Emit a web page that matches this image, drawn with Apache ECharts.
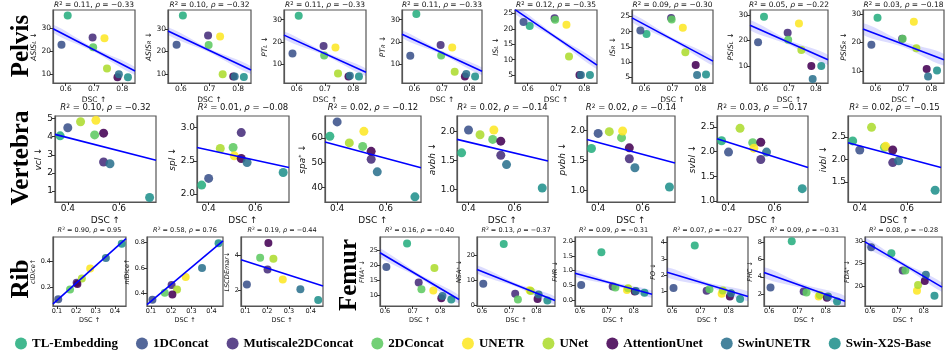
<!DOCTYPE html>
<html lang="en">
<head>
<meta charset="UTF-8" />
<title>DSC vs clinical metrics</title>
<script src="https://cdn.jsdelivr.net/npm/echarts@6.0.0/dist/echarts.min.js"></script>
<style>
  body { margin: 0; background: #fff; }
</style>
</head>
<body>
<div id="main" style="width: 951px; height: 350px"></div>
<script type="text/javascript">
// methods and their colours (viridis)
const methods = ["TL-Embedding", "1DConcat", "Mutiscale2DConcat", "2DConcat", "UNETR", "UNet", "AttentionUnet", "SwinUNETR", "Swin-X2S-Base"];
const palette = ["#28ae80", "#3b528b", "#472d7b", "#5ec962", "#fde725", "#addc30", "#440154", "#2c728e", "#21918c"];

// ---- Pelvis (x = DSC) ----
const pelvisDSC = [0.607, 0.585, 0.695, 0.697, 0.737, 0.746, 0.783, 0.788, 0.820];
const asisL = [35.3, 22.7, 25.8, 21.6, 25.5, 12.5, 8.7, 10.0, 8.7];
const asisR = [35.9, 23.0, 27.1, 22.9, 26.6, 10.0, 9.0, 9.0, 8.7];
const ptL = [31.8, 14.7, 18.1, 13.8, 17.4, 5.6, 4.3, 4.6, 4.3];
const ptR = [32.6, 13.7, 18.5, 13.8, 17.4, 6.4, 4.3, 5.4, 4.3];
const isL = [20.9, 22.2, 23.4, 22.9, 21.3, 11.0, 5.0, 5.0, 5.0];
const isR = [19.2, 20.4, 24.5, 24.0, 21.3, 13.2, 9.0, 5.7, 5.9];
const psisL = [29.3, 19.3, 23.1, 20.3, 26.7, 16.3, 10.0, 4.9, 10.0];
const psisR = [28.7, 19.2, 21.3, 21.3, 27.3, 17.9, 10.6, 8.0, 10.1];
// fitted line at left / right edge, band half-width at left / middle / right
const asisLFit = [29.6, 11.4], asisLBand = [1.7, 0.8, 1.7];
const asisRFit = [29.0, 11.8], asisRBand = [1.7, 0.8, 1.7];
const ptLFit = [23.0, 6.2], ptLBand = [1.7, 0.8, 1.7];
const ptRFit = [23.4, 6.6], ptRBand = [1.7, 0.8, 1.7];
const isLFit = [26.2, 8.2], isLBand = [1.3, 0.6, 1.3];
const isRFit = [24.5, 10.3], isRBand = [1.4, 0.6, 1.4];
const psisLFit = [26.0, 12.4], psisLBand = [2.0, 0.9, 2.0];
const psisRFit = [24.7, 13.9], psisRBand = [2.0, 0.9, 2.0];

// ---- Vertebra ----
const vertebraDSC = [0.370, 0.400, 0.540, 0.505, 0.510, 0.450, 0.540, 0.565, 0.720];
const vcl = [4.05, 4.5, 2.6, 4.1, 4.91, 4.83, 4.2, 2.5, 0.63];
const spl = [2.135, 2.235, 2.925, 2.7, 2.575, 2.685, 2.535, 2.475, 2.325];
const spa = [60.7, 66.5, 51.4, 56.6, 62.7, 58.0, 54.6, 46.3, 36.2];
const avbh = [1.63, 2.02, 1.59, 1.86, 2.02, 1.94, 1.83, 1.43, 1.03];
const pvbh = [1.7, 1.95, 1.53, 1.88, 1.99, 1.98, 1.71, 1.38, 1.06];
const svbl = [2.22, 1.99, 1.84, 2.18, 2.07, 2.47, 2.19, 1.99, 1.25];
const ivbl = [2.41, 2.21, 1.93, 2.27, 2.29, 2.71, 2.21, 1.97, 1.32];
const vclFit = [4.13, 2.7], splFit = [2.7, 2.4], spaFit = [58.4, 48.0];
const avbhFit = [1.86, 1.49], pvbhFit = [1.85, 1.46], svblFit = [2.26, 1.68], ivblFit = [2.37, 1.82];

// ---- Rib (no TL-Embedding point) ----
const ribDSC = [null, 0.107, 0.202, 0.168, 0.272, 0.229, 0.206, 0.353, 0.435];
const clDice = [null, 0.11, 0.235, 0.185, 0.3425, 0.2675, 0.225, 0.4225, 0.53];
const nlDice = [null, 0.35, 0.465, 0.405, 0.53, 0.43, 0.39, 0.6, 0.795];
const lscde = [null, 2.31, 3.18, 3.86, 2.6, 3.81, 4.72, 2.04, 1.42];
const clDiceFit = [0.076, 0.5675], nlDiceFit = [0.31, 0.815], lscdeFit = [3.75, 2.23];

// ---- Femur ----
const femurDSC = [0.680, 0.605, 0.722, 0.732, 0.775, 0.779, 0.804, 0.808, 0.840];
const fna = [27.3, 19.4, 14.2, 11.9, 11.5, 19.1, 8.9, 9.7, 8.5];
const nsa = [24.6, 8.7, 4.7, 2.4, 6.1, 5.8, 2.6, 4.4, 2.0];
const fhr = [1.62, 0.51, 0.46, 0.43, 0.34, 0.4, 0.29, 0.31, 0.25];
const fo = [3.83, 1.21, 1.04, 1.14, 0.86, 1.07, 0.7, 0.9, 0.54];
const fhc = [8.1, 2.77, 2.31, 2.2, 1.73, 1.9, 1.6, 1.73, 1.15];
const fda = [27.3, 28.6, 23.4, 23.4, 18.9, 20.2, 21.1, 22.5, 17.8];
const fnaFit = [24.2, 8.5], fnaBand = [1.4, 0.6, 1.4];
const nsaFit = [14.4, 2.0], nsaBand = [1.6, 0.7, 1.6];
const fhrFit = [0.91, 0.2], fhrBand = [0.12, 0.05, 0.12];
const foFit = [2.18, 0.7], foBand = [0.3, 0.12, 0.3];
const fhcFit = [4.5, 1.2], fhcBand = [0.6, 0.25, 0.6];
const fdaFit = [29.8, 19.7], fdaBand = [1.0, 0.45, 1.0];

// row styles
const rows = [
  { top: 10, height: 73, tick: 7.5, title: 7.5, sym: 8, xGap: 9, titleY: 5 },
  { top: 116, height: 86, tick: 9, title: 8.5, sym: 9, xGap: 10, titleY: 108 },
  { top: 237, height: 69, tick: 6.5, title: 6.5, sym: 8, xGap: 8, titleY: 230 }
];

const PX = [0.555, 0.845], PT = [0.6, 0.7, 0.8];
const VX = [0.35, 0.745], VT = [0.4, 0.6];
const RX = [0.08, 0.457], RT = [0.1, 0.2, 0.3, 0.4];
const FX = [0.582, 0.868], FT = [0.6, 0.7, 0.8];

const plots = [
  { row: 0, box: [53, 82], dsc: pelvisDSC, x: PX, xt: PT, y: [6.2, 37.7], yt: [10, 20, 30], yd: 0, vals: asisL, fit: asisLFit, band: asisLBand, stat: ["0.11", "\u22120.33"], name: "{i|ASIS}{b|L}{n| \u2193}" },
  { row: 0, box: [168, 83], dsc: pelvisDSC, x: PX, xt: PT, y: [6.1, 38.3], yt: [10, 20, 30], yd: 0, vals: asisR, fit: asisRFit, band: asisRBand, stat: ["0.10", "\u22120.32"], name: "{i|ASIS}{b|R}{n| \u2193}" },
  { row: 0, box: [284, 82], dsc: pelvisDSC, x: PX, xt: PT, y: [1.3, 34.4], yt: [10, 20, 30], yd: 0, vals: ptL, fit: ptLFit, band: ptLBand, stat: ["0.11", "\u22120.33"], name: "{i|PT}{b|L}{n| \u2193}" },
  { row: 0, box: [402, 80], dsc: pelvisDSC, x: PX, xt: PT, y: [1.3, 34.4], yt: [10, 20, 30], yd: 0, vals: ptR, fit: ptRFit, band: ptRBand, stat: ["0.11", "\u22120.33"], name: "{i|PT}{b|R}{n| \u2193}" },
  { row: 0, box: [515, 82], dsc: pelvisDSC, x: PX, xt: PT, y: [2.4, 26.1], yt: [5, 10, 15, 20, 25], yd: 0, vals: isL, fit: isLFit, band: isLBand, stat: ["0.12", "\u22120.35"], name: "{i|IS}{b|L}{n| \u2193}" },
  { row: 0, box: [632, 81], dsc: pelvisDSC, x: PX, xt: PT, y: [3.1, 27.1], yt: [5, 10, 15, 20, 25], yd: 0, vals: isR, fit: isRFit, band: isRBand, stat: ["0.09", "\u22120.30"], name: "{i|IS}{b|R}{n| \u2193}" },
  { row: 0, box: [750, 78], dsc: pelvisDSC, x: PX, xt: PT, y: [3.3, 32.0], yt: [10, 20, 30], yd: 0, vals: psisL, fit: psisLFit, band: psisLBand, stat: ["0.05", "\u22120.22"], name: "{i|PSIS}{b|L}{n| \u2193}" },
  { row: 0, box: [863, 81], dsc: pelvisDSC, x: PX, xt: PT, y: [5.7, 31.4], yt: [10, 20, 30], yd: 0, vals: psisR, fit: psisRFit, band: psisRBand, stat: ["0.03", "\u22120.18"], name: "{i|PSIS}{b|R}{n| \u2193}" },

  { row: 1, box: [55, 101], dsc: vertebraDSC, x: VX, xt: VT, y: [0.38, 5.15], yt: [1, 2, 3, 4, 5], yd: 0, vals: vcl, fit: vclFit, stat: ["0.10", "\u22120.32"], name: "{i|vcl}{n| \u2193}" },
  { row: 1, box: [197, 92], dsc: vertebraDSC, x: VX, xt: VT, y: [1.88, 3.175], yt: [2.0, 2.5, 3.0], yd: 1, vals: spl, fit: splFit, stat: ["0.01", "\u22120.08"], name: "{i|spl}{n| \u2193}" },
  { row: 1, box: [325, 96], dsc: vertebraDSC, x: VX, xt: VT, y: [34.1, 68.9], yt: [40, 50, 60], yd: 0, vals: spa, fit: spaFit, stat: ["0.02", "\u22120.12"], name: "{i|spa}{p|*}{n| \u2193}" },
  { row: 1, box: [457, 91], dsc: vertebraDSC, x: VX, xt: VT, y: [0.79, 2.26], yt: [1.0, 1.5, 2.0], yd: 1, vals: avbh, fit: avbhFit, stat: ["0.02", "\u22120.14"], name: "{i|avbh}{n| \u2193}" },
  { row: 1, box: [587, 88], dsc: vertebraDSC, x: VX, xt: VT, y: [0.81, 2.24], yt: [1.0, 1.5, 2.0], yd: 1, vals: pvbh, fit: pvbhFit, stat: ["0.02", "\u22120.14"], name: "{i|pvbh}{n| \u2193}" },
  { row: 1, box: [717, 91], dsc: vertebraDSC, x: VX, xt: VT, y: [0.98, 2.72], yt: [1.0, 1.5, 2.0, 2.5], yd: 1, vals: svbl, fit: svblFit, stat: ["0.03", "\u22120.17"], name: "{i|svbl}{n| \u2193}" },
  { row: 1, box: [848, 93], dsc: vertebraDSC, x: VX, xt: VT, y: [1.06, 2.96], yt: [1.5, 2.0, 2.5], yd: 1, vals: ivbl, fit: ivblFit, stat: ["0.02", "\u22120.15"], name: "{i|ivbl}{n| \u2193}" },

  { row: 2, box: [53, 73], dsc: ribDSC, x: RX, xt: RT, y: [0.06, 0.58], yt: [0.2, 0.4], yd: 1, vals: clDice, fit: clDiceFit, stat: ["0.90", "0.95"], name: "{i|clDice}{n|\u2191}" },
  { row: 2, box: [147, 76], dsc: ribDSC, x: RX, xt: RT, y: [0.30, 0.845], yt: [0.4, 0.6, 0.8], yd: 1, vals: nlDice, fit: nlDiceFit, stat: ["0.58", "0.76"], name: "{i|nlDice}{n|\u2191}" },
  { row: 2, box: [241, 82], dsc: ribDSC, x: RX, xt: RT, y: [1.07, 5.07], yt: [2, 4], yd: 0, vals: lscde, fit: lscdeFit, stat: ["0.19", "\u22120.44"], name: "{i|LSCDEmar}{n|\u2193}" },

  { row: 2, box: [380, 79], dsc: femurDSC, x: FX, xt: FT, y: [6.3, 29.5], yt: [10, 15, 20, 25], yd: 0, vals: fna, fit: fnaFit, band: fnaBand, stat: ["0.16", "\u22120.40"], name: "{i|FNA}{p|*}{n| \u2193}" },
  { row: 2, box: [477, 78], dsc: femurDSC, x: FX, xt: FT, y: [-0.2, 27.4], yt: [0, 10, 20], yd: 0, vals: nsa, fit: nsaFit, band: nsaBand, stat: ["0.13", "\u22120.37"], name: "{i|NSA}{p|*}{n| \u2193}" },
  { row: 2, box: [575, 77], dsc: femurDSC, x: FX, xt: FT, y: [-0.2, 2.14], yt: [0, 0.5, 1.0, 1.5, 2.0], yd: 1, vals: fhr, fit: fhrFit, band: fhrBand, stat: ["0.09", "\u22120.31"], name: "{i|FHR}{n| \u2193}" },
  { row: 2, box: [667, 81], dsc: femurDSC, x: FX, xt: FT, y: [0.11, 4.35], yt: [1, 2, 3, 4], yd: 0, vals: fo, fit: foFit, band: foBand, stat: ["0.07", "\u22120.27"], name: "{i|FO}{n| \u2193}" },
  { row: 2, box: [764, 81], dsc: femurDSC, x: FX, xt: FT, y: [0.64, 8.58], yt: [2, 4, 6, 8], yd: 0, vals: fhc, fit: fhcFit, band: fhcBand, stat: ["0.09", "\u22120.31"], name: "{i|FHC}{n| \u2193}" },
  { row: 2, box: [865, 77], dsc: femurDSC, x: FX, xt: FT, y: [15.5, 30.9], yt: [20, 25, 30], yd: 0, vals: fda, fit: fdaFit, band: fdaBand, stat: ["0.08", "\u22120.28"], name: "{i|FDA}{p|*}{n| \u2193}" }
];

const groupLabels = [
  { text: "Pelvis", x: 22, y: 46 },
  { text: "Vertebra", x: 22, y: 158 },
  { text: "Rib", x: 22, y: 279 },
  { text: "Femur", x: 350, y: 275 }
];

const FONT = "DejaVu Sans";

function labelWidth(s, fs) {
  let w = 0;
  for (const c of s) w += c === "." ? 0.318 : 0.636;
  return w * fs;
}

const chart = echarts.init(document.getElementById("main"));
const option = {
  animation: false,
  backgroundColor: "#fff",
  grid: [], xAxis: [], yAxis: [], series: [], graphic: [],
  legend: {
    data: methods,
    left: 10, top: 332, width: 941,
    icon: "circle", itemWidth: 12, itemHeight: 12, itemGap: 18,
    selectedMode: false,
    textStyle: { fontFamily: "Liberation Serif", fontWeight: "bold", fontSize: 13, color: "#000" }
  }
};

plots.forEach((p, i) => {
  const r = rows[p.row];
  const fs = r.tick;
  const yLabels = p.yt.map(v => v.toFixed(p.yd));
  const yGap = 2 + Math.max(...yLabels.map(s => labelWidth(s, fs))) + 2;

  option.grid.push({
    left: p.box[0], top: r.top, width: p.box[1], height: r.height,
    show: true, borderColor: "#555", borderWidth: 1.2
  });
  option.xAxis.push({
    gridIndex: i, type: "value", min: p.x[0], max: p.x[1],
    splitLine: { show: false },
    axisLine: { show: true, onZero: false, lineStyle: { color: "#555", width: 1.2 } },
    axisTick: { show: true, length: 3, customValues: p.xt, lineStyle: { color: "#333" } },
    axisLabel: { customValues: p.xt, formatter: v => v.toFixed(1), fontSize: fs, fontFamily: FONT, color: "#111", margin: 2 },
    name: "DSC \u2191", nameLocation: "middle", nameGap: r.xGap + fs * 0.5,
    nameTextStyle: { fontSize: fs, fontFamily: FONT, color: "#111" }
  });
  option.yAxis.push({
    gridIndex: i, type: "value", min: p.y[0], max: p.y[1],
    splitLine: { show: false },
    axisLine: { show: true, onZero: false, lineStyle: { color: "#555", width: 1.2 } },
    axisTick: { show: true, length: 3, customValues: p.yt, lineStyle: { color: "#333" } },
    axisLabel: { customValues: p.yt, formatter: v => v.toFixed(p.yd), fontSize: fs, fontFamily: FONT, color: "#111", margin: 2 },
    name: p.name, nameLocation: "middle", nameRotate: 90, nameGap: yGap,
    nameTextStyle: {
      color: "#111",
      rich: {
        i: { fontFamily: FONT, fontStyle: "italic", fontSize: fs },
        b: { fontFamily: FONT, fontStyle: "italic", fontSize: fs * 0.7, verticalAlign: "bottom" },
        p: { fontFamily: FONT, fontSize: fs * 0.7, verticalAlign: "top" },
        n: { fontFamily: FONT, fontSize: fs }
      }
    }
  });

  if (p.band) {
    option.series.push({
      type: "custom", xAxisIndex: i, yAxisIndex: i, z: 2, clip: true,
      data: [0], silent: true,
      renderItem: (params, api) => {
        const xm = (p.x[0] + p.x[1]) / 2, fm = (p.fit[0] + p.fit[1]) / 2;
        const pts = [
          [p.x[0], p.fit[0] + p.band[0]], [xm, fm + p.band[1]], [p.x[1], p.fit[1] + p.band[2]],
          [p.x[1], p.fit[1] - p.band[2]], [xm, fm - p.band[1]], [p.x[0], p.fit[0] - p.band[0]]
        ].map(v => api.coord(v));
        return { type: "polygon", shape: { points: pts, smooth: 0.3 }, style: { fill: "rgba(40,40,255,0.16)" } };
      }
    });
  }
  option.series.push({
    type: "scatter", xAxisIndex: i, yAxisIndex: i, z: 3, symbolSize: r.sym,
    data: p.vals.map((v, k) => v == null ? null : { value: [p.dsc[k], v], itemStyle: { color: palette[k], opacity: 0.88 } }).filter(Boolean)
  });
  option.series.push({
    type: "line", xAxisIndex: i, yAxisIndex: i, z: 4, symbol: "none", silent: true,
    data: [[p.x[0], p.fit[0]], [p.x[1], p.fit[1]]],
    lineStyle: { color: "#0000ff", width: 1.6 }
  });

  option.graphic.push({
    type: "text", x: p.box[0] + p.box[1] / 2, y: r.titleY,
    style: {
      text: "{i|R}{s|2}{n| = " + p.stat[0] + ", }{i|\u03c1}{n| = " + p.stat[1] + "}",
      align: "center", verticalAlign: "middle", fill: "#111",
      rich: {
        i: { fontFamily: FONT, fontStyle: "italic", fontSize: r.title, fill: "#111" },
        s: { fontFamily: FONT, fontSize: r.title * 0.7, verticalAlign: "top", fill: "#111" },
        n: { fontFamily: FONT, fontSize: r.title, fill: "#111" }
      }
    }
  });
});

// legend entries
methods.forEach((m, k) => {
  option.series.push({ type: "scatter", name: m, data: [], itemStyle: { color: palette[k], opacity: 0.88 } });
});

groupLabels.forEach(g => {
  option.graphic.push({
    type: "text", x: g.x, y: g.y, rotation: Math.PI / 2,
    style: { text: g.text, font: 'bold 25px "Liberation Serif"', align: "center", verticalAlign: "middle", fill: "#000" }
  });
});

chart.setOption(option);
</script>
</body>
</html>
